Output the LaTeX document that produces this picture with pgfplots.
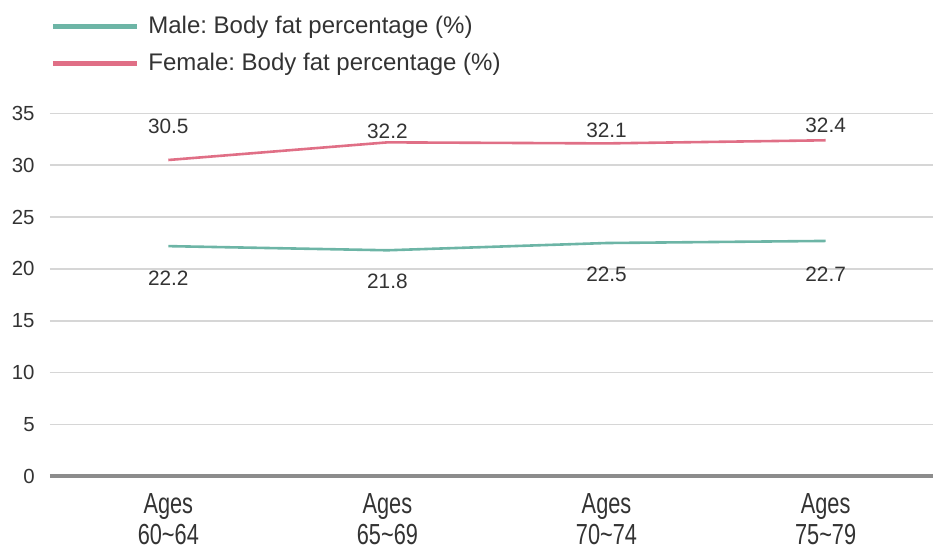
\documentclass[border=0pt]{standalone}
\usepackage{pgfplots}
\pgfplotsset{compat=1.18}
\usepackage{fontspec}
\setmainfont{Liberation Sans}
\frenchspacing
\definecolor{male}{HTML}{6DB5A6}
\definecolor{female}{HTML}{E06F86}
\definecolor{gridc}{HTML}{D6D6D6}
\definecolor{zeroc}{HTML}{8C8C8C}
\definecolor{txt}{HTML}{333333}
\begin{document}
\begin{tikzpicture}
\path[use as bounding box] (0pt,0pt) rectangle (466.5pt,-274.5pt);
\begin{axis}[
  at={(25pt,-238.25pt)}, anchor=south west,
  scale only axis, width=441.5pt, height=181.6pt,
  xmin=-0.54, xmax=3.49, ymin=0, ymax=35,
  xtick={0,1,2,3},
  xticklabels={
    {\scalebox{0.75}[1]{Ages}\\\scalebox{0.75}[1]{60\textasciitilde 64}},
    {\scalebox{0.75}[1]{Ages}\\\scalebox{0.75}[1]{65\textasciitilde 69}},
    {\scalebox{0.75}[1]{Ages}\\\scalebox{0.75}[1]{70\textasciitilde 74}},
    {\scalebox{0.75}[1]{Ages}\\\scalebox{0.75}[1]{75\textasciitilde 79}}},
  ytick={0,5,10,15,20,25,30,35},
  ymajorgrids,
  major grid style={gridc, line width=0.75pt},
  axis line style={draw=none},
  major tick length=0pt,
  /pgf/number format/assume math mode=true,
  yticklabel style={font=\fontsize{10.2}{12}\selectfont, text=txt, anchor=east, inner sep=0pt, xshift=-7.5pt},
  xticklabel style={font=\fontsize{14.5}{15.5}\selectfont, text=txt, align=center, anchor=north, inner sep=0pt, yshift=-8.5pt},
  extra y ticks={0}, extra y tick labels={},
  extra tick style={grid=major, major grid style={zeroc, line width=2pt}},
  clip=false,
  legend cell align=left,
  legend style={draw=none, fill=none, at={(0,1)}, anchor=south west, yshift=17.5pt,
    font=\fontsize{12}{14}\selectfont, text=txt, row sep=4.5pt,
    inner xsep=0pt, inner ysep=0pt,
    nodes={inner xsep=4.5pt}},
  legend image code/.code={\draw[line width=2.5pt] (0pt,0pt) -- (42pt,0pt);},
]
\addplot[male, line width=1.3pt] coordinates {(0,22.2) (1,21.8) (2,22.5) (3,22.7)};
\addlegendentry{Male: Body fat percentage (\%)}
\addplot[female, line width=1.3pt] coordinates {(0,30.5) (1,32.2) (2,32.1) (3,32.4)};
\addlegendentry{Female: Body fat percentage (\%)}
\addplot[draw=none, mark=none, forget plot, nodes near coords, point meta=explicit symbolic,
  nodes near coords style={anchor=center, font=\fontsize{10.4}{12}\selectfont, text=txt}]
  coordinates {(0,33.7)[30.5] (1,33.3)[32.2] (2,33.4)[32.1] (3,33.8)[32.4]};
\addplot[draw=none, mark=none, forget plot, nodes near coords, point meta=explicit symbolic,
  nodes near coords style={anchor=center, font=\fontsize{10.4}{12}\selectfont, text=txt}]
  coordinates {(0,19.1)[22.2] (1,18.8)[21.8] (2,19.5)[22.5] (3,19.5)[22.7]};
\end{axis}
\end{tikzpicture}
\end{document}
